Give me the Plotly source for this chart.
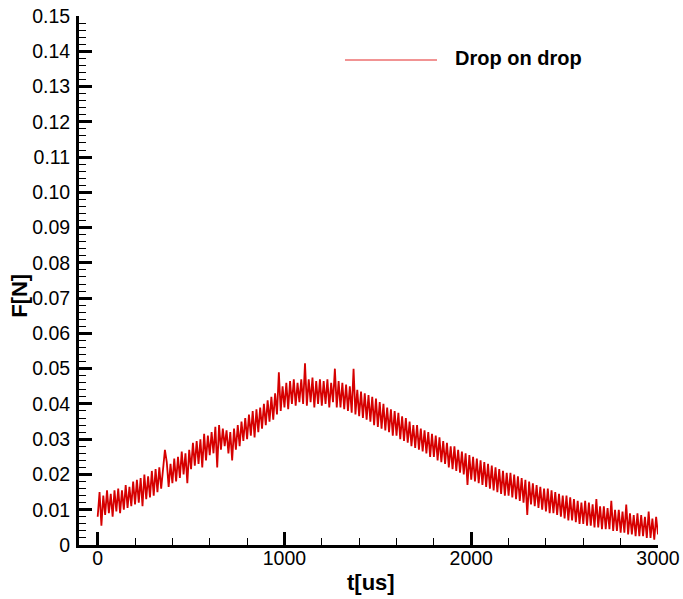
import plotly.graph_objects as go

# Sample times (us), one sample every 10 us
t_us = list(range(0, 3001, 10))

# Force in mN (noisy trace)
force_mN = [
    8, 15, 5.5, 14, 8.5, 15.5, 9, 14.5, 8, 15.5,
    9.5, 16, 9, 15.5, 10, 17, 10.5, 16.5, 11, 18,
    11.5, 18.5, 12, 19, 11, 20, 13, 19.5, 13.5, 21,
    14, 21.5, 15, 22, 16, 21, 27, 23.5, 16.5, 23,
    17.5, 24.5, 18, 25, 19, 26.5, 20, 26, 17.5, 27,
    21.5, 29, 22.5, 29.5, 23, 30, 22, 31.5, 24, 31,
    25.5, 32, 26, 33.5, 22, 34, 27, 33, 28, 32.5,
    26, 32, 24, 33, 27, 34, 28, 35, 29.5, 36,
    30, 37, 31, 38, 30.5, 38.5, 32, 39, 33, 40,
    34, 41, 35, 42, 35.5, 43, 37, 49, 38, 45,
    39, 46, 38.5, 46.5, 40, 47, 39.5, 46, 40.5, 47,
    40, 51.5, 39.5, 47, 40.5, 47.5, 39, 46.5, 40, 47,
    39.5, 46.5, 40, 47, 39, 46, 40.5, 50, 39, 46.5,
    39, 46, 38.5, 45.5, 38, 45, 37.5, 50, 37, 44,
    36.5, 43.5, 36, 43, 35.5, 42.5, 35, 42, 34, 41.5,
    33.5, 40.5, 33, 40, 32.5, 39, 32, 38.5, 31, 38,
    31, 37.5, 30, 36.5, 29.5, 36, 29, 35, 28, 34,
    27.5, 34, 27, 33, 26.5, 32.5, 26, 32, 25, 31.5,
    25, 31, 24, 30.5, 23.5, 29.5, 23, 29, 22, 28,
    21.5, 28, 21, 27, 20.5, 26.5, 20, 26, 17, 25.5,
    18.5, 25, 18, 24.5, 17.5, 24, 17, 23.5, 16.5, 23,
    16, 22.5, 15.5, 22, 15, 21.5, 14.5, 21, 14, 20.5,
    14, 20.5, 13.5, 20, 13, 19.5, 12.5, 19, 12, 18.5,
    8.5, 18, 11.5, 17.5, 11, 17, 10.5, 16.5, 10, 16,
    9.5, 16, 9, 15.5, 9, 15, 8.5, 14.5, 8, 14,
    7.5, 14, 7, 13.5, 7, 13, 6.5, 12.5, 6, 12,
    6, 12.5, 5.5, 12, 5.5, 11.5, 5, 13, 5, 11,
    4.5, 11, 4.5, 10.5, 4.5, 12.5, 4, 10, 4, 10,
    3.5, 9.5, 3.5, 11.5, 3, 9, 3, 8.5, 2.5, 9,
    2.5, 8.5, 2.5, 8, 2, 9.5, 2, 7.5, 1.5, 8,
    3,
]
force_N = [v / 1000 for v in force_mN]

series_name = "Drop on drop"
x_ticks = [0, 1000, 2000, 3000]
y_ticks = [round(i * 0.01, 2) for i in range(16)]
y_ticktext = ["0"] + [f"{v:.2f}" for v in y_ticks[1:]]

RED = "rgb(214,0,0)"
FONT = "Liberation Sans, Arial, sans-serif"

fig = go.Figure()
fig.add_trace(go.Scatter(
    x=t_us, y=force_N, mode="lines", name=series_name,
    line=dict(color=RED, width=1.8), showlegend=False,
))

axis_common = dict(
    showgrid=False, zeroline=False, showline=True, linecolor="black",
    linewidth=3, ticks="inside", tickcolor="black", tickwidth=3, ticklen=13,
    tickfont=dict(family=FONT, size=19.5, color="black"),
    automargin=False, ticklabeloverflow="allow",
)

fig.update_xaxes(
    range=[-100, 3000], tickmode="array", tickvals=x_ticks,
    minor=dict(dtick=200, tick0=0, ticks="inside", ticklen=7, tickwidth=1.2, tickcolor="black"),
    ticklabelstandoff=-6,
    **axis_common,
)
fig.update_yaxes(
    range=[0, 0.15], tickmode="array", tickvals=y_ticks, ticktext=y_ticktext,
    minor=dict(dtick=0.002, tick0=0, ticks="inside", ticklen=7, tickwidth=1.2, tickcolor="black"),
    ticklabelstandoff=2,
    **axis_common,
)

# Legend drawn as line sample + label
fig.add_shape(type="line", xref="paper", yref="paper",
              x0=0.4594, x1=0.6183, y0=0.9168, y1=0.9168,
              line=dict(color="rgb(228,40,40)", width=1))
fig.add_annotation(xref="paper", yref="paper", x=0.646, y=0.921,
                   text="<b>" + series_name + "</b>", showarrow=False,
                   xanchor="left", yanchor="middle",
                   font=dict(family=FONT, size=20, color="black"))

# Axis titles
fig.add_annotation(xref="paper", yref="paper", x=0.504, y=-0.070,
                   text="<b>t[us]</b>", showarrow=False,
                   xanchor="center", yanchor="middle",
                   font=dict(family=FONT, size=22, color="black"))
fig.add_annotation(xref="paper", yref="paper", x=-0.102, y=0.471,
                   text="<b>F[N]</b>", showarrow=False, textangle=-90,
                   xanchor="center", yanchor="middle",
                   font=dict(family=FONT, size=22, color="black"))

fig.update_layout(
    width=683, height=599,
    margin=dict(l=79, r=25, t=16, b=54),
    paper_bgcolor="white", plot_bgcolor="white",
    showlegend=False,
)

# Remove the default page margin so the figure sits at the window's top-left
fig.write_html("out.html",
               config={"displayModeBar": False},
               post_script="document.body.style.margin='0';document.body.style.overflow='hidden';")
